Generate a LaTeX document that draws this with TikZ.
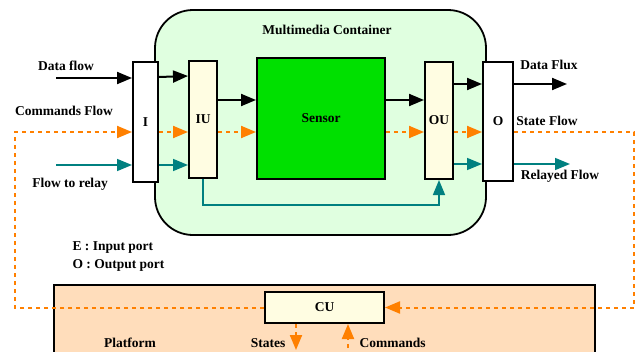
\documentclass[tikz,border=0pt]{standalone}
\usepackage{fontspec}
\setmainfont{Liberation Serif}
\usetikzlibrary{arrows.meta}
\definecolor{cmdorange}{RGB}{255,128,0}
\definecolor{relteal}{RGB}{0,128,128}
\definecolor{contgreen}{RGB}{224,255,224}
\definecolor{sensgreen}{RGB}{0,224,0}
\definecolor{unitcream}{RGB}{255,253,226}
\definecolor{platpeach}{RGB}{255,221,187}
\begin{document}
\begin{tikzpicture}[x=1pt, y=-1pt,
        font=\fontsize{13.5}{15}\selectfont\bfseries,
        box/.style={draw, line width=2pt, minimum width=#1, inner sep=0pt},
        dataarr/.style={line width=2pt, -{Triangle[length=15pt,width=12pt]}},
        cmdarr/.style={cmdorange, line width=2pt, dash pattern=on 4pt off 4pt, -{Triangle[length=15pt,width=12pt]}},
        relarr/.style={relteal, line width=1.6pt, -{Triangle[length=15pt,width=12pt]}}]
        \useasboundingbox (0,0) rectangle (640,351);                                   %
        \node[draw, line width=1.8pt, fill=contgreen, rounded corners=38pt,
              minimum width=331, minimum height=225] (cont) at (320.5,122.5) {};          %container
        \node (conttitle) at (327,30) {Multimedia Container};                          %
        \node[box=25, minimum height=120, fill=white]     (Iport)  at (145.5,122) {I};   %E
        \node[box=28, minimum height=117, fill=unitcream] (IU)     at (203,119.5) {IU};  %
        \node[box=128, minimum height=121, fill=sensgreen] (sensor) at (321,118.5) {Sensor};
        \node[box=28, minimum height=117, fill=unitcream] (OU)     at (439,120.5) {OU};  %
        \node[box=30, minimum height=119, fill=white]     (Oport)  at (498,121.5) {O};   %O
        \draw [line width=1.6pt, fill=platpeach] (54,285) rectangle (595,370);          %platform
        \node[box=119, minimum height=31, fill=unitcream] (CU)     at (324.5,307.5) {CU};
        % rows
        \coordinate (dfin)  at (56,78);
        \coordinate (sens)  at (0,100);
        \coordinate (dout)  at (0,84);
        \coordinate (dfout) at (567,84);
        \coordinate (cl)    at (15,132);
        \coordinate (cr)    at (634,132);
        \coordinate (rin)   at (56,165);
        \coordinate (rout)  at (0,164);
        \coordinate (rend)  at (570,164);
        \coordinate (lp)    at (0,205);
        \coordinate (stbot) at (296,350);
        \coordinate (cmbot) at (348,356);
        % data flow
        \draw [dataarr] (dfin) -- (Iport.west |- dfin);                                %
        \draw [dataarr] (Iport.east |- 0,77) -- (IU.west |- 0,76);                      %
        \draw [dataarr] (IU.east |- sens) -- (sensor.west |- sens);                    %
        \draw [dataarr] (sensor.east |- sens) -- (OU.west |- sens);                    %
        \draw [dataarr] (OU.east |- dout) -- (Oport.west |- dout);                     %
        \draw [dataarr] (Oport.east |- dout) -- (dfout);                               %
        % commands / states
        \draw [cmdarr] (CU.west) -| (cl) -- (Iport.west |- cl);                        %
        \draw [cmdarr] (Iport.east |- cl) -- (IU.west |- cl);                          %
        \draw [cmdarr] (IU.east |- cl) -- (sensor.west |- cl);                         %
        \draw [cmdarr] (sensor.east |- cl) -- (OU.west |- cl);                         %
        \draw [cmdarr] (OU.east |- cl) -- (Oport.west |- cl);                          %
        \draw [cmdarr] (Oport.east |- cl) -- (cr) |- (CU.east);                        %
        \draw [cmdarr] (CU.south -| stbot) -- (stbot);                                 %
        \draw [cmdarr] (cmbot) -- (CU.south -| cmbot);                                 %
        % relay
        \draw [relarr] (rin) -- (Iport.west |- rin);                                   %
        \draw [relarr] (Iport.east |- rin) -- (IU.west |- rin);                        %
        \draw [relarr] (IU.south) |- (OU.south |- lp) -- (OU.south);                   %
        \draw [relarr] (OU.east |- rout) -- (Oport.west |- rout);                      %
        \draw [relarr] (Oport.east |- rout) -- (rend);                                 %
        % labels
        \node (ldata)  at (66,66)   {Data flow};
        \node (lcmd)   at (64,111)  {Commands Flow};
        \node (lrelay) at (70,184)  {Flow to relay};
        \node (lflux)  at (549,65)  {Data Flux};
        \node (lstate) at (547,121) {State Flow};
        \node (lrelo)  at (560,176) {Relayed Flow};
        \node[anchor=west] (lin)  at (69,248) {E : Input port};
        \node[anchor=west] (lout) at (69,265) {O : Output port};
        \node (lplat)  at (130,343) {Platform};
        \node[anchor=east] (lsts) at (289,343) {States};
        \node[anchor=west] (lcms) at (356,343) {Commands};
\end{tikzpicture}
\end{document}
